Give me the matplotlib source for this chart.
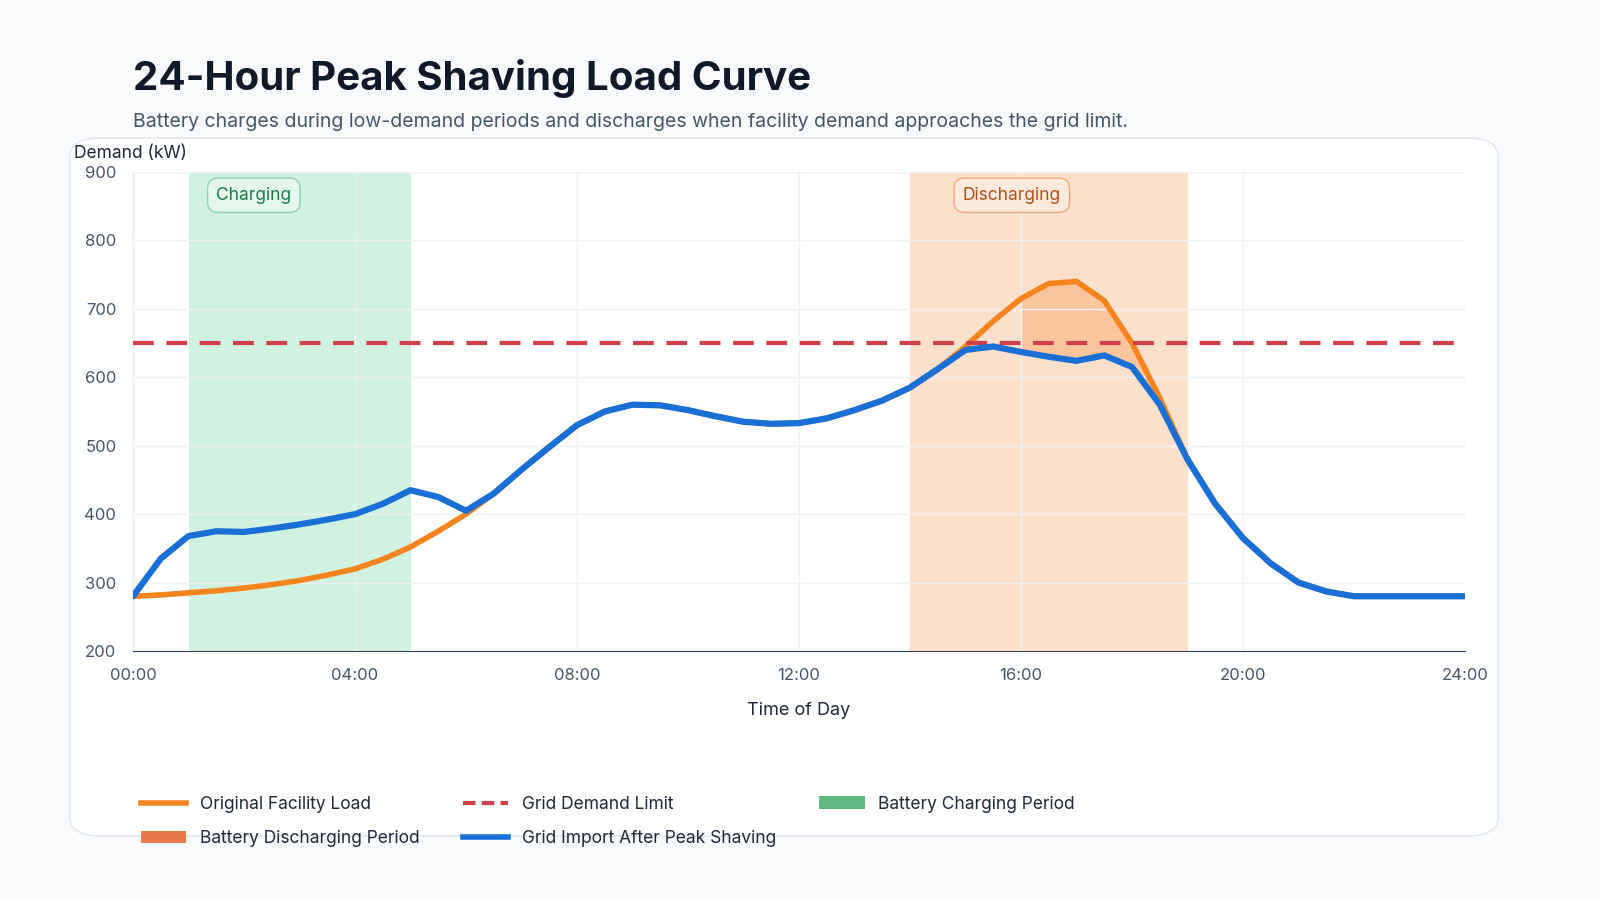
import matplotlib
matplotlib.use("Agg")
import matplotlib.pyplot as plt
from matplotlib.patches import FancyBboxPatch, Patch
from matplotlib.lines import Line2D

plt.rcParams['font.family'] = ['Inter', 'DejaVu Sans']

hours = [i * 0.5 for i in range(49)]
original_load = [280, 282, 285, 288, 292, 297, 303, 311, 320, 334, 352, 375, 400, 430, 465, 498,
                 530, 550, 560, 559, 552, 543, 535, 532, 533, 540, 552, 566, 585, 612, 645, 682,
                 715, 737, 740, 712, 650, 570, 480, 415, 365, 328, 300, 287, 280, 280, 280, 280, 280]
grid_import = [280, 335, 368, 375, 374, 379, 385, 392, 400, 415, 435, 425, 405, 430, 465, 498,
               530, 550, 560, 559, 552, 543, 535, 532, 533, 540, 552, 566, 585, 612, 640, 645,
               637, 630, 624, 632, 615, 560, 480, 415, 365, 328, 300, 287, 280, 280, 280, 280, 280]
grid_limit = 650
charge_window = (1, 5)
discharge_window = (14, 19)
xtick_vals = [0, 4, 8, 12, 16, 20, 24]
xtick_labels = ["00:00", "04:00", "08:00", "12:00", "16:00", "20:00", "24:00"]

fig = plt.figure(figsize=(16, 9), dpi=100)
fig.patch.set_facecolor("#f8fafc")
card = FancyBboxPatch((70/1600, 1-836/900), 1428/1600, 698/900, boxstyle="round,pad=0,rounding_size=0.02",
                      transform=fig.transFigure, facecolor="white", edgecolor="#e2e8f0", lw=1.2, zorder=-5)
fig.patches.append(card)

ax = fig.add_axes([133/1600, 1-651/900, 1332/1600, 479/900])
ax.set_zorder(2)
ax.set_facecolor("white")
ax.axvspan(*charge_window, color="#d1f2e1", zorder=1, lw=0)
ax.axvspan(*discharge_window, color="#fde0cb", zorder=1, lw=0)
ax.fill_between(hours, grid_import, original_load,
                where=[16 <= h <= 18.5 for h in hours], color="#fbc59c", zorder=2, lw=0)
ax.grid(True, color="#eef1f5", lw=1, zorder=1.5)
ax.set_axisbelow(False)
ax.plot(hours, original_load, color="#f5841f", lw=4, zorder=4, solid_capstyle="round")
ax.axhline(grid_limit, color="#d1404a", lw=3, ls=(0, (5, 3)), zorder=5)
ax.plot(hours, grid_import, color="#1a6fd6", lw=4.5, zorder=6, solid_capstyle="round")

ax.set_xlim(0, 24)
ax.set_ylim(200, 900)
ax.set_xticks(xtick_vals, xtick_labels)
ax.set_yticks(range(200, 901, 100))
ax.tick_params(colors="#475569", labelsize=12, length=0, pad=12)
for s in ["top", "right"]:
    ax.spines[s].set_visible(False)
for s in ["left", "bottom"]:
    ax.spines[s].set_color("#334155")
ax.set_xlabel("Time of Day", fontsize=13, color="#1f2937", labelpad=14)
fig.text(74/1600, 1-153/900, "Demand (kW)", fontsize=12.5, color="#1f2937", va="center")

ax.text(1.5, 866, "Charging", fontsize=12.5, color="#1e7a4a", va="center", ha="left",
        bbox=dict(boxstyle="round,pad=0.5,rounding_size=0.6", fc="#e3f7ec", ec="#8fd1ac", lw=1), zorder=7)
ax.text(14.95, 866, "Discharging", fontsize=12.5, color="#b2501c", va="center", ha="left",
        bbox=dict(boxstyle="round,pad=0.5,rounding_size=0.6", fc="#feeadd", ec="#f0a77a", lw=1), zorder=7)

fig.text(133/1600, 1-78/900, "24-Hour Peak Shaving Load Curve", fontsize=29, weight="bold",
         color="#111827", va="center")
fig.text(133/1600, 1-122/900,
         "Battery charges during low-demand periods and discharges when facility demand approaches the grid limit.",
         fontsize=14, color="#475569", va="center")

h_orig = Line2D([], [], color="#f5841f", lw=4)
h_lim = Line2D([], [], color="#d1404a", lw=3, ls=(0, (3, 1.5)))
h_ch = Patch(facecolor="#5fb97f", edgecolor="none")
h_dis = Patch(facecolor="#e9784b", edgecolor="none")
h_imp = Line2D([], [], color="#1a6fd6", lw=4)
fig.legend([h_orig, h_dis, h_lim, h_imp, h_ch],
           ["Original Facility Load", "Battery Discharging Period", "Grid Demand Limit",
            "Grid Import After Peak Shaving", "Battery Charging Period"],
           ncol=3, loc="upper left", bbox_to_anchor=(125/1600, 1-780/900), frameon=False,
           fontsize=12.5, labelcolor="#1f2937", handlelength=2.6, columnspacing=2.5, labelspacing=1.0)

fig.savefig("out.png", dpi=100, facecolor=fig.get_facecolor())
